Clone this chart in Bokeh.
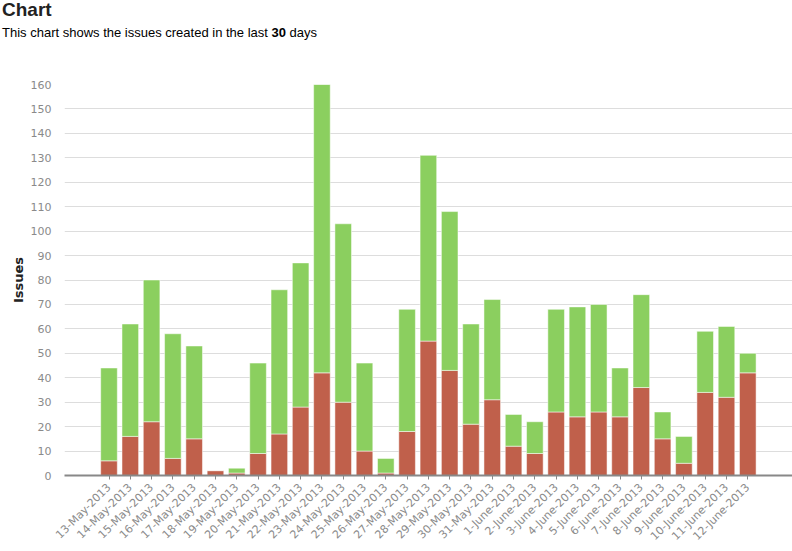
import math
from bokeh.plotting import figure
from bokeh.models import Range1d, FixedTicker, ColumnDataSource, Div
from bokeh.layouts import column
from bokeh.embed import file_html
from bokeh.resources import INLINE

title_text = "Chart"
subtitle_before = "This chart shows the issues created in the last"
subtitle_days = "30"
subtitle_after = "days"

dates = ["13-May-2013", "14-May-2013", "15-May-2013", "16-May-2013", "17-May-2013",
         "18-May-2013", "19-May-2013", "20-May-2013", "21-May-2013", "22-May-2013",
         "23-May-2013", "24-May-2013", "25-May-2013", "26-May-2013", "27-May-2013",
         "28-May-2013", "29-May-2013", "30-May-2013", "31-May-2013", "1-June-2013",
         "2-June-2013", "3-June-2013", "4-June-2013", "5-June-2013", "6-June-2013",
         "7-June-2013", "8-June-2013", "9-June-2013", "10-June-2013", "11-June-2013",
         "12-June-2013"]
red_part = [6, 16, 22, 7, 15, 2, 1, 9, 17, 28, 42, 30, 10, 1, 18, 55, 43, 21, 31, 12,
            9, 26, 24, 26, 24, 36, 15, 5, 34, 32, 42]
green_part = [38, 46, 58, 51, 38, 0, 2, 37, 59, 59, 118, 73, 36, 6, 50, 76, 65, 41, 41, 13,
              13, 42, 45, 44, 20, 38, 11, 11, 25, 29, 8]
y_ticks = list(range(0, 161, 10))

RED = "#c0604b"
GREEN = "#8bcf5f"

X0, X1 = -2.09, 32.1
Y0, Y1 = 0, 160
HEADER_H = 48

header = Div(
    text=(f'<div style="font-family:\'Liberation Sans\',Arial,sans-serif;margin:0;padding:0 0 0 2px;">'
          f'<div style="font-size:19px;font-weight:bold;color:#222222;line-height:20px;margin:0;">{title_text}</div>'
          f'<div style="font-size:13px;color:#000000;line-height:15px;margin:5px 0 0 0;">'
          f'{subtitle_before} <b>{subtitle_days}</b> {subtitle_after}</div></div>'),
    width=792, height=HEADER_H, margin=0)

idx = list(range(len(dates)))
src = ColumnDataSource(dict(x=idx, red=red_part, green=green_part))

p = figure(width=792, height=551 - HEADER_H, output_backend="svg", toolbar_location=None,
           x_range=Range1d(X0, X1), y_range=Range1d(Y0, Y1),
           min_border_left=64, min_border_right=0, min_border_top=84 - HEADER_H,
           min_border_bottom=76, margin=0)
p.outline_line_color = None
p.background_fill_color = "white"
p.border_fill_color = "white"

p.vbar_stack(["red", "green"], x="x", width=0.78, source=src, color=[RED, GREEN],
             line_color="white", line_alpha=0.5, line_width=1)

# y axis
p.yaxis.ticker = FixedTicker(ticks=y_ticks)
p.yaxis.axis_line_color = None
p.yaxis.major_tick_line_color = None
p.yaxis.minor_tick_line_color = None
p.yaxis.major_label_text_color = "#8a8a8a"
p.yaxis.major_label_text_font = "DejaVu Sans"
p.yaxis.major_label_text_font_size = "11px"
p.yaxis.major_label_standoff = 7
p.yaxis.axis_label = "Issues"
p.yaxis.axis_label_text_font = "DejaVu Sans"
p.yaxis.axis_label_text_font_style = "bold"
p.yaxis.axis_label_text_font_size = "13px"
p.yaxis.axis_label_text_color = "#222222"
p.yaxis.axis_label_standoff = 2
p.ygrid.grid_line_color = "#dddddd"
p.ygrid.grid_line_width = 1
p.xgrid.grid_line_color = None

# x axis
p.xaxis.ticker = FixedTicker(ticks=idx)
p.xaxis.major_label_overrides = {i: d for i, d in enumerate(dates)}
p.xaxis.major_label_orientation = math.pi / 4
p.xaxis.axis_line_color = "#888888"
p.xaxis.axis_line_width = 2
p.xaxis.major_tick_line_color = "#888888"
p.xaxis.major_tick_in = 0
p.xaxis.major_tick_out = 4
p.xaxis.minor_tick_line_color = None
p.xaxis.major_label_text_color = "#8a8a8a"
p.xaxis.major_label_text_font = "DejaVu Sans"
p.xaxis.major_label_text_font_size = "11px"
p.xaxis.major_label_standoff = 6

layout = column(header, p, margin=0, spacing=0)
open("out.html", "w").write(file_html(layout, INLINE))
